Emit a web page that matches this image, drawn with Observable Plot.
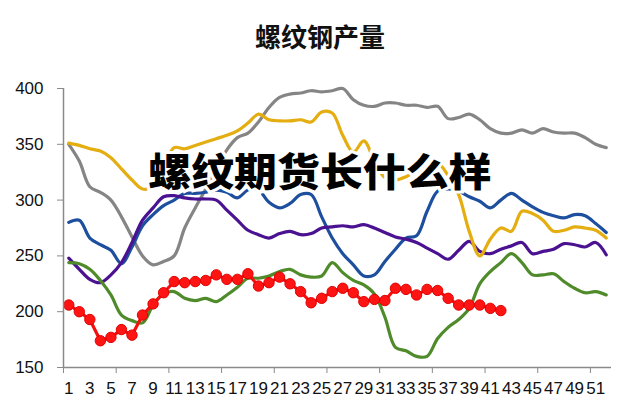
<!DOCTYPE html>
<html>
<head>
<meta charset="utf-8">
<script src="https://cdn.jsdelivr.net/npm/d3@7"></script>
<script src="https://cdn.jsdelivr.net/npm/@observablehq/plot@0.6"></script>
<style>
  html, body { margin: 0; padding: 0; background: #fff; }
  #wrap { position: relative; width: 640px; height: 418px; overflow: hidden; font-family: "Liberation Sans", Arial, sans-serif; }
  #title { position: absolute; left: 0; width: 640px; top: 20px; text-align: center;
    font-family: "Noto Sans CJK SC", sans-serif; font-weight: 700; font-size: 26px; line-height: 32px; color: #111; }
  #overlay { position: absolute; left: 0; width: 640px; top: 145px; text-align: center;
    font-family: "Noto Sans CJK SC", sans-serif; font-weight: 900; font-size: 39px; line-height: 48px; color: #000;
    transform: scaleX(1.1); transform-origin: 321px 50%;
    -webkit-text-stroke: 6px #fff; paint-order: stroke fill; }
  #chart { position: absolute; left: 0; top: 0; }
</style>
</head>
<body>
<div id="wrap">
  <div id="chart"></div>
  <div id="title">螺纹钢产量</div>
  <div id="overlay">螺纹期货长什么样</div>
</div>
<script>
const weeks = [1,2,3,4,5,6,7,8,9,10,11,12,13,14,15,16,17,18,19,20,21,22,23,24,25,26,
  27,28,29,30,31,32,33,34,35,36,37,38,39,40,41,42,43,44,45,46,47,48,49,50,51,52];
const xTickLabels = [1,3,5,7,9,11,13,15,17,19,21,23,25,27,29,31,33,35,37,39,41,43,45,47,49,51];
const yTicks = [150,200,250,300,350,400];

const gray = [350,335,312,307,300,285,267,250,242,245,250,275,293,310,328,345,356,360,370,383,392,395,396,398,397,398,
  400,390,385,384,387,387,385,385,383,384,373,374,377,372,364,360,360,363,360,364,361,360,360,356,350,347];
const yellow = [351,349,346,344,338,328,318,310,312,330,347,346,349,352,355,358,362,369,377,372,371,371,372,370,379,378,
  358,343,353,335,320,318,321,326,329,333,322,305,272,250,265,275,272,290,288,282,272,273,276,275,273,266];
const blue = [280,282,266,260,255,243,258,277,287,295,300,306,306,307,309,307,302,309,309,298,293,297,305,305,285,266,
  252,242,232,233,245,256,266,268,290,308,310,308,303,299,293,300,306,300,294,289,286,284,287,286,279,271];
const purple = [248,238,229,226,233,244,262,282,293,303,304,302,301,301,300,291,282,273,269,266,270,272,269,270,275,276,
  277,276,278,275,271,267,265,262,257,252,247,255,263,254,252,256,259,262,252,254,256,261,260,258,262,251];
const green = [244,243,238,228,215,197,192,190,206,216,218,212,210,212,209,215,222,230,230,232,236,238,233,231,232,244,
  235,228,224,216,195,168,165,160,160,176,186,193,203,225,236,244,252,244,233,233,234,227,221,217,218,215];
const red = [206,200,193,174,177,184,179,197,207,217,227,226,227,228,233,229,229,234,223,226,231,225,218,208,212,218,
  221,217,209,211,210,221,220,215,220,219,212,206,206,206,203,201];

const seriesDefs = [
  {name: "gray", values: gray, color: "#858585"},
  {name: "blue", values: blue, color: "#1d4f9e"},
  {name: "purple", values: purple, color: "#4a1190"},
  {name: "green", values: green, color: "#4f8b2a"},
  {name: "yellow", values: yellow, color: "#e4ad10"}
];
const toRows = (vals) => vals.map((v, i) => ({week: weeks[i], value: v}));
const redRows = toRows(red);
const boundaries = [0.5,5.5,10.5,15.5,20.5,25.5,30.5,35.5,40.5,45.5,50.5];

const marks = [];
for (const s of seriesDefs) {
  marks.push(Plot.line(toRows(s.values), {x: "week", y: "value", stroke: s.color, strokeWidth: 3.2, curve: "catmull-rom"}));
}
marks.push(Plot.line(redRows, {x: "week", y: "value", stroke: "#f21010", strokeWidth: 3.2}));
marks.push(Plot.dot(redRows, {x: "week", y: "value", r: 5.2, fill: "#ff1414", stroke: "#e00000", strokeWidth: 1}));
marks.push(Plot.ruleY([150], {stroke: "#8a8a8a", strokeWidth: 1.5}));
marks.push(Plot.ruleX([0.5], {y1: 150, y2: 400, stroke: "#8a8a8a", strokeWidth: 1.5}));
marks.push(Plot.axisY(yTicks, {tickSize: 6, tickPadding: 14, fontSize: 17, stroke: "#8a8a8a", color: "#111", tickFormat: d => String(d)}));
marks.push(Plot.axisX(boundaries, {tickSize: 6, tickFormat: () => "", stroke: "#8a8a8a"}));
marks.push(Plot.axisX(xTickLabels, {tickSize: 0, tickPadding: 14, fontSize: 17, color: "#111", tickFormat: d => String(d)}));

const chart = Plot.plot({
  width: 640,
  height: 418,
  marginTop: 88,
  marginBottom: 51,
  marginLeft: 63,
  marginRight: 29,
  style: {background: "transparent", fontFamily: "'Liberation Sans', Arial, sans-serif", color: "#111"},
  x: {domain: [0.5, 52.5], label: null},
  y: {domain: [150, 400], label: null},
  marks
});
document.getElementById("chart").appendChild(chart);
</script>
</body>
</html>
